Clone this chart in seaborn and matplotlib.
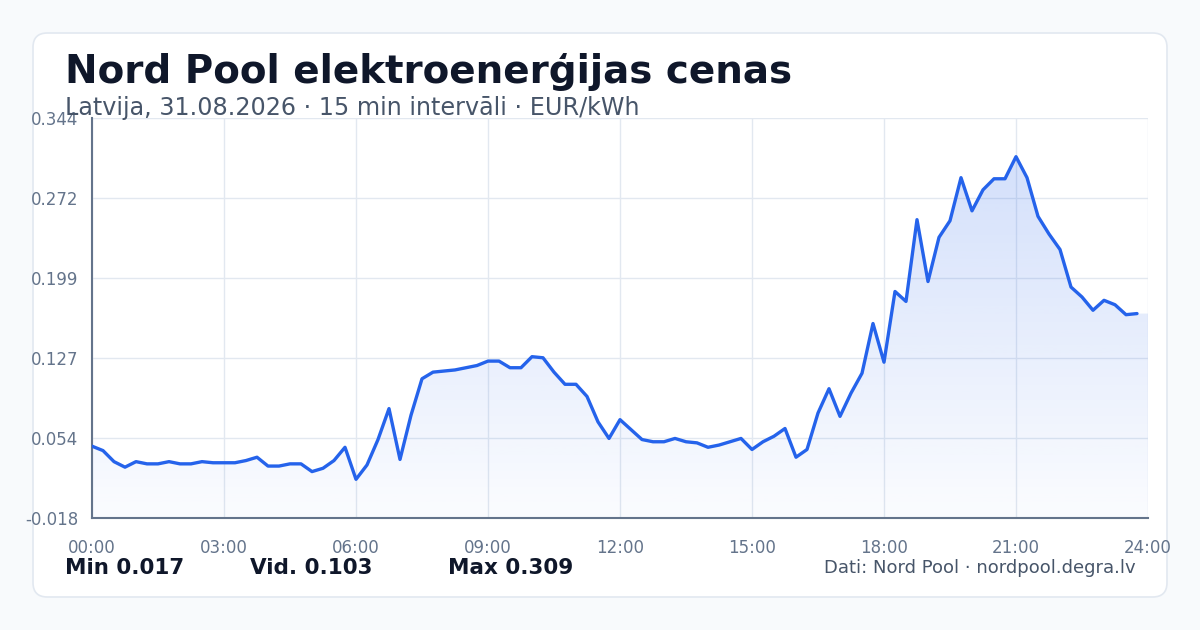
import numpy as np
import pandas as pd
import matplotlib
matplotlib.use("Agg")
import matplotlib.pyplot as plt
from matplotlib.patches import FancyBboxPatch
import seaborn as sns

# 15 min cenas, EUR/kWh (00:00 ... 23:45)
prices = [
    0.047, 0.043, 0.033, 0.028, 0.033, 0.031, 0.031, 0.033, 0.031, 0.031,
    0.033, 0.032, 0.032, 0.032, 0.034, 0.037, 0.029, 0.029, 0.031, 0.031,
    0.024, 0.027, 0.034, 0.046, 0.017, 0.030, 0.053, 0.081, 0.035, 0.075,
    0.108, 0.114, 0.115, 0.116, 0.118, 0.120, 0.124, 0.124, 0.118, 0.118,
    0.128, 0.127, 0.114, 0.103, 0.103, 0.092, 0.069, 0.054, 0.071, 0.062,
    0.053, 0.051, 0.051, 0.054, 0.051, 0.050, 0.046, 0.048, 0.051, 0.054,
    0.044, 0.051, 0.056, 0.063, 0.037, 0.044, 0.077, 0.099, 0.074, 0.095,
    0.113, 0.158, 0.123, 0.187, 0.178, 0.252, 0.196, 0.236, 0.251, 0.290,
    0.260, 0.279, 0.289, 0.289, 0.309, 0.290, 0.255, 0.239, 0.225, 0.191,
    0.182, 0.170, 0.179, 0.175, 0.166, 0.167,
]
hours = [i * 0.25 for i in range(len(prices))]

x_ticks = [0, 3, 6, 9, 12, 15, 18, 21, 24]
x_labels = ["00:00", "03:00", "06:00", "09:00", "12:00", "15:00", "18:00", "21:00", "24:00"]
y_ticks = [-0.018, 0.0544, 0.1268, 0.1992, 0.2716, 0.344]
y_labels = ["-0.018", "0.054", "0.127", "0.199", "0.272", "0.344"]

title = "Nord Pool elektroenerģijas cenas"
subtitle = "Latvija, 31.08.2026 · 15 min intervāli · EUR/kWh"
stats = ["Min 0.017", "Vid. 0.103", "Max 0.309"]
source = "Dati: Nord Pool · nordpool.degra.lv"

df = pd.DataFrame({"h": hours, "price": prices})

sns.set_theme(style="white")
plt.rcParams["font.family"] = ["DejaVu Sans"]

W, H = 1200, 630
fig = plt.figure(figsize=(12, 6.3), dpi=100)
fig.patch.set_facecolor("#f8fafc")

# karte
card = FancyBboxPatch((33 / W, 33 / H), (1167 - 33) / W, (597 - 33) / H,
                      boxstyle="round,pad=0,rounding_size=0.012",
                      transform=fig.transFigure, facecolor="white",
                      edgecolor="#e2e8f0", linewidth=1.2, zorder=-5,
                      mutation_aspect=W / H)
fig.patches.append(card)

ax = fig.add_axes([92 / W, (H - 518) / H, 1056 / W, 400 / H])
ax.set_facecolor("none")

sns.lineplot(data=df, x="h", y="price", ax=ax, color="#2563eb", linewidth=2.4, zorder=3)

# gradienta laukums
fx = hours + [24]
fy = prices + [prices[-1]]
poly = ax.fill_between(fx, fy, -0.018, color="none", linewidth=0)
grad = np.linspace(0.20, 0.02, 256).reshape(-1, 1)
rgba = np.zeros((256, 1, 4))
rgba[..., 0] = 0x25 / 255
rgba[..., 1] = 0x63 / 255
rgba[..., 2] = 0xeb / 255
rgba[..., 3] = grad
img = ax.imshow(rgba, extent=[0, 24, -0.018, 0.309], aspect="auto", origin="upper", zorder=2)
img.set_clip_path(poly.get_paths()[0], transform=ax.transData)

ax.set_xlim(0, 24)
ax.set_ylim(-0.018, 0.344)
ax.set_xticks(x_ticks)
ax.set_xticklabels(x_labels)
ax.set_yticks(y_ticks)
ax.set_yticklabels(y_labels)
ax.set_xlabel("")
ax.set_ylabel("")
ax.grid(True, color="#e2e8f0", linewidth=1)
ax.set_axisbelow(True)
ax.tick_params(length=0, labelsize=12, colors="#64748b")
ax.tick_params(axis="y", pad=10)
ax.tick_params(axis="x", pad=15)
for s in ["top", "right"]:
    ax.spines[s].set_visible(False)
for s in ["left", "bottom"]:
    ax.spines[s].set_color("#64748b")
    ax.spines[s].set_linewidth(1.5)

fig.text(65 / W, (H - 83) / H, title, fontsize=28, fontweight="bold",
         color="#0f172a", va="baseline", ha="left")
fig.text(65 / W, (H - 115) / H, subtitle, fontsize=17.2, color="#475569",
         va="baseline", ha="left")

for txt, px in zip(stats, [65, 250, 448]):
    fig.text(px / W, (H - 568) / H, txt, fontsize=15.5, fontweight="bold",
             color="#0f172a", va="center", ha="left")
fig.text(1136 / W, (H - 568) / H, source, fontsize=13, color="#475569",
         va="center", ha="right")

fig.savefig("out.png", dpi=100, facecolor=fig.get_facecolor())
